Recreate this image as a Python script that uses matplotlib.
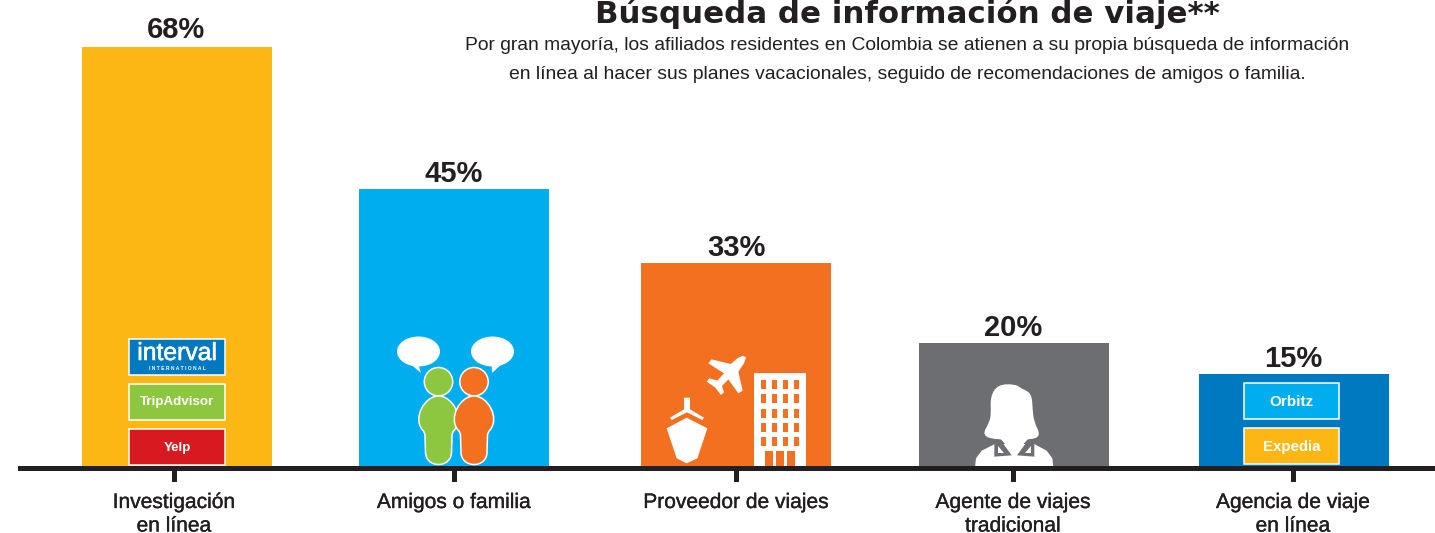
import matplotlib
matplotlib.use('Agg')
import matplotlib.pyplot as plt
import matplotlib.patheffects as pe
from matplotlib.patches import Rectangle, Ellipse, Circle, Polygon, PathPatch
from matplotlib.path import Path

categories = ['Investigación\nen línea', 'Amigos o familia', 'Proveedor de viajes',
              'Agente de viajes\ntradicional', 'Agencia de viaje\nen línea']
values = [68, 45, 33, 20, 15]
title = 'Búsqueda de información de viaje**'
subtitle = ('Por gran mayoría, los afiliados residentes en Colombia se atienen a su propia búsqueda de información\n'
            'en línea al hacer sus planes vacacionales, seguido de recomendaciones de amigos o familia.')
online_sites = ['TripAdvisor', 'Yelp']
agency_sites = ['Orbitz', 'Expedia']

GOLD = '#FDB714'
BLUE = '#00AEEF'
ORANGE = '#F37021'
GRAY = '#6D6E71'
DARK_BLUE = '#0079C1'
GREEN = '#8DC63F'
RED = '#D71920'
INK = '#231F20'
bar_colors = [GOLD, BLUE, ORANGE, GRAY, DARK_BLUE]

W, H = 1435, 533
PX_PER_PCT = 6.165
BASE_Y = 466
NARROW = ['Liberation Sans Narrow', 'Liberation Sans', 'DejaVu Sans']
thicker = [pe.withStroke(linewidth=0.25, foreground=INK)]

fig = plt.figure(figsize=(W / 100, H / 100), dpi=100, facecolor='white')

# data axes: x in pixels, y in percent
ax = fig.add_axes([0, 0, 1, 1])
ax.set_xlim(0, W)
ax.set_ylim(-(H - BASE_Y) / PX_PER_PCT, BASE_Y / PX_PER_PCT)
ax.axis('off')

bar_x = [177, 454, 736, 1014, 1294]
tick_x = [174, 454, 736, 1013, 1293]
ax.bar(bar_x, values, width=190, color=bar_colors, zorder=2)
for x, v in zip(tick_x, values):
    # the top label sits a little higher and further right in the original
    ax.annotate(f'{v}%', (x + 2 if v == 68 else x, v), xytext=(0, 6.5 if v == 68 else 4.5),
                textcoords='offset points', ha='center', va='baseline', fontsize=21,
                fontweight='bold', color=INK, family=NARROW)

# overlay in image pixels for axis line, icons and text
ov = fig.add_axes([0, 0, 1, 1], facecolor='none')
ov.set_xlim(0, W)
ov.set_ylim(H, 0)
ov.axis('off')

ov.add_patch(Rectangle((18, 466), W - 18, 5, color=INK, lw=0, zorder=5))
for x, cat in zip(tick_x, categories):
    ov.add_patch(Rectangle((x - 2.5, 470), 5, 12, color=INK, lw=0, zorder=5))
    ov.text(x, 493, cat, ha='center', va='top', fontsize=15.1, color=INK, family=NARROW,
            linespacing=1.3, path_effects=thicker)

ov.text(907, 23, title, ha='center', va='baseline', fontsize=22.2, fontweight='bold', color=INK,
        family=['DejaVu Sans'])
ov.text(907, 60, subtitle, ha='center', va='center', fontsize=13.85, color=INK, family=NARROW,
        linespacing=1.92)


def site_box(x0, y0, w, h, color, label=None, size=9.6):
    ov.add_patch(Rectangle((x0, y0), w, h, facecolor=color, edgecolor='white', lw=1.1, zorder=4))
    if label:
        ov.text(x0 + w / 2, y0 + h / 2 + 0.5, label, ha='center', va='center', fontsize=size,
                fontweight='bold', color='white', family=NARROW, zorder=6)


# logo boxes on first bar
site_box(129, 339, 96, 36, DARK_BLUE)
ov.text(177, 353, 'interval', ha='center', va='center', fontsize=17.8, color='white',
        family=['Liberation Sans'], zorder=6,
        path_effects=[pe.withStroke(linewidth=0.4, foreground='white')])
ov.text(177, 368.5, 'I N T E R N A T I O N A L', ha='center', va='center', fontsize=3.6, color='white',
        family=['Liberation Sans'], fontweight='bold', zorder=6)
site_box(129, 384, 96, 36, GREEN, online_sites[0])
site_box(129, 429, 96, 36, RED, online_sites[1])

# logo boxes on last bar
site_box(1244, 383, 95, 36, BLUE, agency_sites[0], 11)
site_box(1244, 428, 95, 36, GOLD, agency_sites[1], 10.8)


# two people with speech bubbles
def person(cx, color, z):
    ov.add_patch(Circle((cx, 381.7), 14.2, facecolor=color, edgecolor='white', lw=1.1, zorder=z))
    verts = [(cx - 13, 452), (cx - 13.5, 436), (cx - 13.5, 432), (cx - 16, 430),
             (cx - 26, 418), (cx - 14, 396), (cx, 396),
             (cx + 14, 396), (cx + 26, 418), (cx + 16, 430),
             (cx + 13.5, 432), (cx + 13.5, 436), (cx + 13, 452),
             (cx + 13, 460), (cx + 7, 464.5), (cx, 464.5),
             (cx - 7, 464.5), (cx - 13, 460), (cx - 13, 452), (cx - 13, 452)]
    codes = [Path.MOVETO, Path.LINETO, Path.CURVE3, Path.CURVE3,
             Path.CURVE4, Path.CURVE4, Path.CURVE4,
             Path.CURVE4, Path.CURVE4, Path.CURVE4,
             Path.CURVE3, Path.CURVE3, Path.LINETO,
             Path.CURVE4, Path.CURVE4, Path.CURVE4,
             Path.CURVE4, Path.CURVE4, Path.CURVE4, Path.CLOSEPOLY]
    ov.add_patch(PathPatch(Path(verts, codes), facecolor=color, edgecolor='white', lw=1.1,
                           joinstyle='round', zorder=z))


ov.add_patch(Ellipse((418.5, 351.5), 43, 30, color='white', lw=0, zorder=3))
ov.add_patch(Polygon([(408, 362), (418.5, 365), (421, 373)], color='white', lw=0, zorder=3))
ov.add_patch(Ellipse((492.5, 351.5), 43, 30, color='white', lw=0, zorder=3))
ov.add_patch(Polygon([(491.7, 365), (504, 362), (492, 373)], color='white', lw=0, zorder=3))
person(438.5, GREEN, 3)
person(474, ORANGE, 4)


def from_zoom(points, x0, y0):
    # reference crops are scaled by 3
    return [(x0 + a / 3, y0 + b / 3) for a, b in points]


def smooth(points):
    # closed quadratic spline through the midpoints of the control points
    n = len(points)
    mid = [((points[i][0] + points[(i + 1) % n][0]) / 2, (points[i][1] + points[(i + 1) % n][1]) / 2)
           for i in range(n)]
    verts = [mid[-1]]
    codes = [Path.MOVETO]
    for i in range(n):
        verts += [points[i], mid[i]]
        codes += [Path.CURVE3, Path.CURVE3]
    return Path(verts, codes)


# plane
ov.add_patch(Polygon(from_zoom([(258, 22), (248, 17), (232, 25), (212, 42), (155, 28), (145, 40), (192, 70),
                                (172, 92), (148, 85), (140, 95), (165, 112), (183, 135), (192, 127),
                                (186, 108), (205, 88), (235, 130), (248, 122), (235, 65), (252, 40)], 660, 350),
                     color='white', lw=0, zorder=3))
# ship
ov.add_patch(Polygon(from_zoom([(20, 235), (80, 203), (142, 235), (112, 325), (80, 340), (50, 325)], 660, 350),
                     color='white', lw=0, zorder=3))
ov.add_patch(Polygon(from_zoom([(72, 143), (90, 143), (90, 178), (132, 203), (127, 210), (81, 187),
                                (35, 210), (30, 203), (72, 178)], 660, 350), color='white', lw=0, zorder=3))
# building
ov.add_patch(Rectangle((754, 373), 51.7, 93, color='white', lw=0, zorder=3))
for wx in [393, 426, 459, 492]:
    for wy in [181, 223, 266, 308, 351]:
        ov.add_patch(Rectangle((630 + wx / 3, 320 + wy / 3), 5.3, 9, color=ORANGE, lw=0, zorder=4))
for dx in [406, 438, 470]:
    ov.add_patch(Rectangle((630 + dx / 3, 450.5), 8, 16, color=ORANGE, lw=0, zorder=4))

# agent
body = from_zoom([(30, 262), (33, 235), (50, 212), (90, 192), (208, 192), (245, 212), (262, 235), (265, 262)],
                 965, 380)
ov.add_patch(Polygon(body, color='white', lw=0, zorder=3))
ov.add_patch(Polygon(from_zoom([(88, 185), (105, 178), (140, 226), (88, 230)], 965, 380),
                     color=GRAY, lw=0, zorder=4))
ov.add_patch(Polygon(from_zoom([(208, 185), (191, 178), (156, 226), (208, 230)], 965, 380),
                     color=GRAY, lw=0, zorder=4))
ov.add_patch(Polygon(from_zoom([(98, 197), (98, 218), (116, 218)], 965, 380), color='white', lw=0, zorder=5))
ov.add_patch(Polygon(from_zoom([(198, 197), (198, 218), (180, 218)], 965, 380), color='white', lw=0, zorder=5))
ov.add_patch(Polygon(from_zoom([(105, 175), (191, 175), (148, 222)], 965, 380), color='white', lw=0, zorder=5))
head = from_zoom([(150, 12), (98, 14), (76, 50), (78, 100), (74, 125), (50, 168), (100, 180), (195, 180),
                  (228, 168), (207, 125), (203, 90), (200, 40), (170, 26)], 965, 380)
ov.add_patch(PathPatch(smooth(head), facecolor='white', lw=0, zorder=5))

fig.savefig('out.png', dpi=100)
